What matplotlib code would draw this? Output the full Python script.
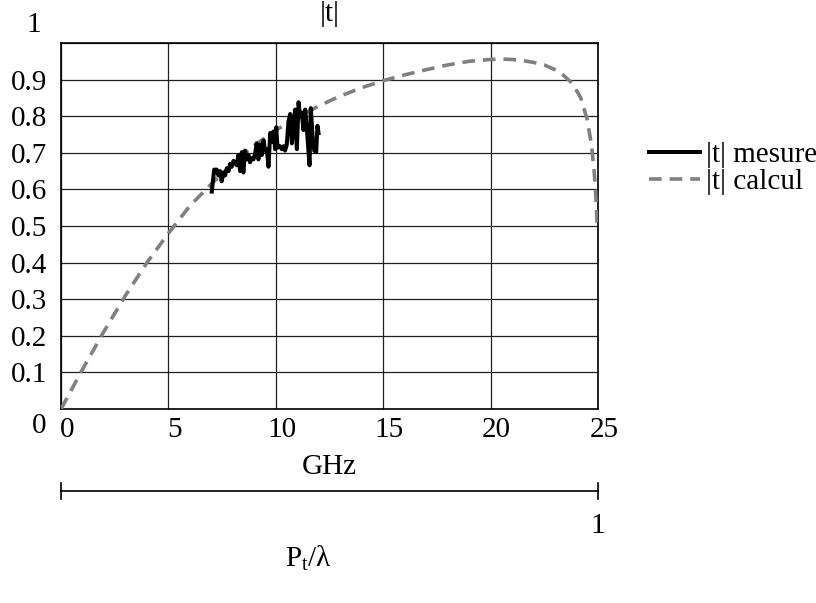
import matplotlib
matplotlib.use("Agg")
import matplotlib.pyplot as plt
import matplotlib.transforms as mtransforms
from matplotlib.lines import Line2D

plt.rcParams['font.family'] = ['Liberation Serif', 'DejaVu Serif']
plt.rcParams['mathtext.fontset'] = 'custom'
plt.rcParams['mathtext.rm'] = 'Liberation Serif'
plt.rcParams['mathtext.it'] = 'Liberation Serif'

# ---- data ----
freq_calc = [0, 1, 2, 3, 4, 5, 6, 7, 8, 9, 10, 11, 12, 13, 14, 15, 16, 17, 18,
             19, 20, 20.5, 21, 21.5, 22, 22.5, 23.2, 23.8, 24.2, 24.5, 24.7,
             24.82, 24.9, 24.97]
t_calc = [0, 0.108, 0.212, 0.31, 0.40, 0.48, 0.555, 0.615, 0.67, 0.72, 0.762,
          0.795, 0.828, 0.855, 0.878, 0.897, 0.913, 0.927, 0.94, 0.95, 0.955,
          0.956, 0.955, 0.952, 0.947, 0.94, 0.922, 0.89, 0.85, 0.79, 0.72,
          0.65, 0.58, 0.49]

freq_meas = [7.02, 7.13, 7.25, 7.33, 7.41, 7.48, 7.56, 7.64, 7.72, 7.80, 7.87,
             7.95, 8.03, 8.18, 8.26, 8.34, 8.42, 8.49, 8.57, 8.65, 8.73, 8.80,
             8.88, 8.96, 9.04, 9.11, 9.19, 9.27, 9.35, 9.43, 9.50, 9.58, 9.66,
             9.74, 9.81, 9.89, 9.97, 10.02, 10.08, 10.20, 10.28, 10.36, 10.43,
             10.51, 10.59, 10.67, 10.75, 10.82, 10.90, 10.98, 11.06, 11.13,
             11.21, 11.29, 11.37, 11.44, 11.52, 11.57, 11.63, 11.71, 11.79,
             11.88, 11.94, 11.99]
t_meas = [0.594, 0.654, 0.654, 0.638, 0.650, 0.622, 0.646, 0.638, 0.658, 0.650,
          0.670, 0.662, 0.678, 0.666, 0.694, 0.650, 0.702, 0.646, 0.706, 0.682,
          0.694, 0.674, 0.686, 0.682, 0.698, 0.726, 0.682, 0.722, 0.694, 0.734,
          0.706, 0.710, 0.662, 0.754, 0.730, 0.758, 0.710, 0.770, 0.714, 0.718,
          0.710, 0.718, 0.706, 0.722, 0.786, 0.806, 0.726, 0.778, 0.818, 0.710,
          0.838, 0.798, 0.810, 0.762, 0.818, 0.770, 0.706, 0.666, 0.822, 0.746,
          0.706, 0.702, 0.774, 0.754]

x_ticks = [0, 5, 10, 15, 20, 25]
x_ticklabels = ['0', '5', '10', '15', '20', '25']
y_ticks = [0, 0.1, 0.2, 0.3, 0.4, 0.5, 0.6, 0.7, 0.8, 0.9, 1.0]
y_ticklabels = ['0', '0.1', '0.2', '0.3', '0.4', '0.5', '0.6', '0.7', '0.8', '0.9', '1']
legend_labels = ['|t| mesure', '|t| calcul']

W, H = 816, 603
DPI = 100
fig = plt.figure(figsize=(W / DPI, H / DPI), dpi=DPI)
L, R, T, B = 61, 598, 43, 409
ax = fig.add_axes([L / W, 1 - B / H, (R - L) / W, (B - T) / H])

FS = 21
calc_color = '#808080'
LW = 2.6
DASH = (3.5, 2.2)

ax.plot(freq_calc, t_calc, color=calc_color, lw=LW, dashes=DASH,
        dash_capstyle='butt', zorder=3)
ax.plot(freq_meas, t_meas, color='black', lw=LW + 0.3, zorder=4)

ax.set_xlim(0, 25)
ax.set_ylim(0, 1)
ax.set_xticks(x_ticks)
ax.set_xticklabels(x_ticklabels, fontsize=FS)
ax.set_yticks(y_ticks)
ax.set_yticklabels(y_ticklabels, fontsize=FS)
ax.tick_params(axis='both', length=0)
ax.tick_params(axis='x', pad=6)
ax.tick_params(axis='y', pad=10)
ax.grid(True, color='#202020', lw=0.9)
ax.set_axisbelow(True)
for s in ax.spines.values():
    s.set_color('black')
    s.set_linewidth(1.2)


def shift(artist, dx, dy):
    artist.set_transform(artist.get_transform() +
                         mtransforms.ScaledTranslation(dx / DPI, dy / DPI,
                                                       fig.dpi_scale_trans))


for lab in ax.get_xticklabels():
    shift(lab, 6, 0)
ylabs = ax.get_yticklabels()
shift(ylabs[0], -1, -14)
shift(ylabs[-1], -6, 21)

ax.set_title('|t|', fontsize=FS, pad=16)
ax.set_xlabel('GHz', fontsize=FS, labelpad=8)

# legend
handles = [Line2D([], [], color='black', lw=LW + 0.3),
           Line2D([], [], color=calc_color, lw=LW, dashes=DASH)]
fig.legend(handles, legend_labels, loc='upper left',
           bbox_to_anchor=(649 / W, 1 - 142 / H), frameon=False, fontsize=FS,
           handlelength=1.75, handletextpad=0.2, labelspacing=0.02,
           borderaxespad=0, borderpad=0)

# secondary scale bar below
ybar = 1 - 491 / H
fig.add_artist(Line2D([L / W, R / W], [ybar, ybar], color='black', lw=1.2))
for xe in (L, R):
    fig.add_artist(Line2D([xe / W, xe / W], [ybar - 8 / H, ybar + 8 / H],
                          color='black', lw=1.2))
fig.text(R / W, 1 - 526 / H, '1', fontsize=FS, ha='center', va='center')
fig.text(308 / W, 1 - 558 / H, r'P$_\mathrm{t}$/λ', fontsize=FS, ha='center', va='center')

fig.savefig('out.png', dpi=DPI)
